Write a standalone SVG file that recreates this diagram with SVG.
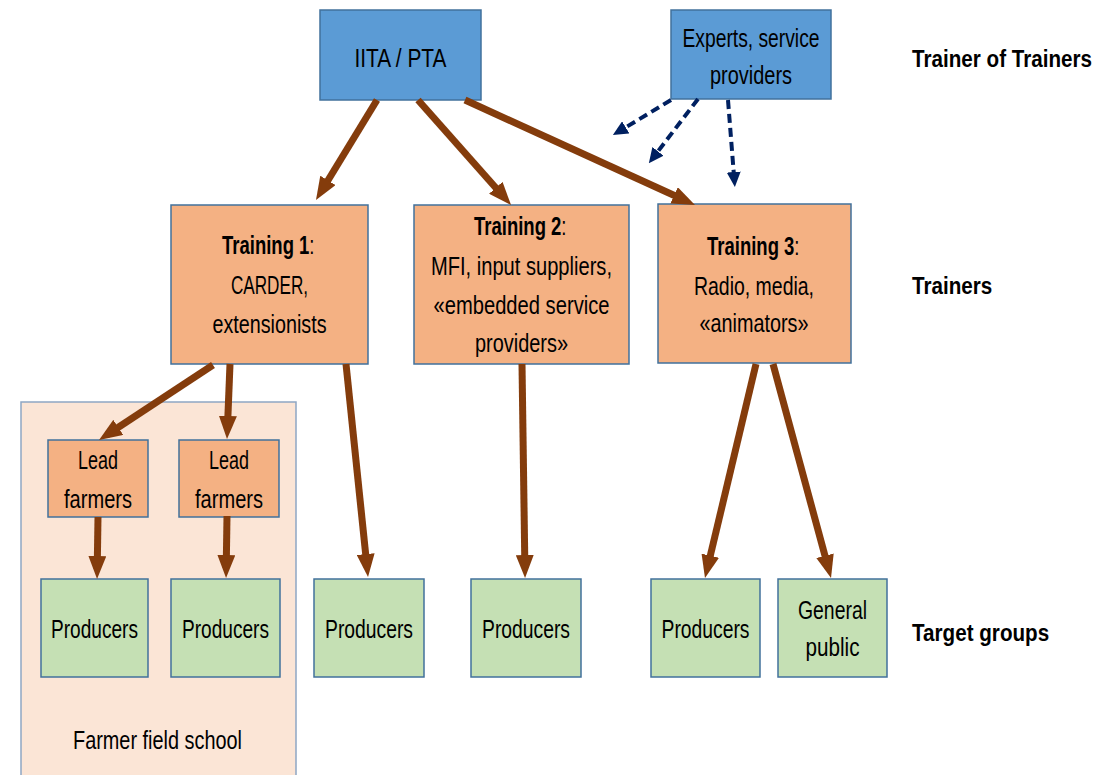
<svg xmlns="http://www.w3.org/2000/svg" width="1114" height="775" viewBox="0 0 1114 775">
<style>
text{font-family:"Liberation Sans",Arial,sans-serif;font-size:25px;fill:#000;text-anchor:middle}
.lbl{font-weight:bold;text-anchor:start;font-size:24px}
.b{font-weight:bold;text-anchor:start}
.n{font-weight:normal}
.blue{fill:#5B9BD5;stroke:#41719C;stroke-width:1.5}
.org{fill:#F4B183;stroke:#41719C;stroke-width:1.5}
.grn{fill:#C5E0B4;stroke:#41719C;stroke-width:1.5}
.ffs{fill:#FBE5D6;stroke:#8EA6C4;stroke-width:1.5}
.br{stroke:#843C0C;stroke-width:7;fill:none;marker-end:url(#ab)}
.dn{stroke:#002060;stroke-width:4;fill:none;stroke-dasharray:9 5;marker-end:url(#ad)}
</style>
<defs>
<marker id="ab" markerUnits="userSpaceOnUse" viewBox="0 0 23 18" markerWidth="23" markerHeight="18" refX="13" refY="9" orient="auto"><path d="M0,0 L23,9 L0,18 z" fill="#843C0C"/></marker>
<marker id="ad" markerUnits="userSpaceOnUse" viewBox="0 0 15 14" markerWidth="15" markerHeight="14" refX="9" refY="7" orient="auto"><path d="M0,0 L15,7 L0,14 z" fill="#002060"/></marker>
</defs>
<rect width="1114" height="775" fill="#fff"/>
<g id="ffs"><rect class="ffs" x="21" y="402" width="275" height="380"/><text x="157.5" y="749" textLength="169" lengthAdjust="spacingAndGlyphs">Farmer field school</text></g>
<g id="iita"><rect class="blue" x="320" y="10" width="161" height="90"/><text x="400.5" y="67" textLength="92" lengthAdjust="spacingAndGlyphs">IITA / PTA</text></g>
<g id="experts"><rect class="blue" x="671" y="10" width="160" height="89"/><text x="751" y="47" textLength="137" lengthAdjust="spacingAndGlyphs">Experts, service</text><text x="751" y="84" textLength="82" lengthAdjust="spacingAndGlyphs">providers</text></g>
<g id="training1"><rect class="org" x="171" y="205" width="197" height="159"/><text class="b" transform="translate(222,254) scale(0.74,1)">Training 1<tspan class="n">:</tspan></text><text x="269.5" y="294" textLength="77" lengthAdjust="spacingAndGlyphs">CARDER,</text><text x="269.5" y="333" textLength="114" lengthAdjust="spacingAndGlyphs">extensionists</text></g>
<g id="training2"><rect class="org" x="414" y="205" width="215" height="159"/><text class="b" transform="translate(474,235) scale(0.74,1)">Training 2<tspan class="n">:</tspan></text><text x="521.5" y="275" textLength="181" lengthAdjust="spacingAndGlyphs">MFI, input suppliers,</text><text x="521.5" y="314" textLength="176" lengthAdjust="spacingAndGlyphs">«embedded service</text><text x="521.5" y="352" textLength="93" lengthAdjust="spacingAndGlyphs">providers»</text></g>
<g id="training3"><rect class="org" x="658" y="204" width="193" height="159"/><text class="b" transform="translate(707,255) scale(0.74,1)">Training 3<tspan class="n">:</tspan></text><text x="754" y="295" textLength="120" lengthAdjust="spacingAndGlyphs">Radio, media,</text><text x="754" y="332" textLength="109" lengthAdjust="spacingAndGlyphs">«animators»</text></g>
<g id="lead1"><rect class="org" x="48" y="440" width="100" height="77"/><text x="98" y="469" textLength="40" lengthAdjust="spacingAndGlyphs">Lead</text><text x="98" y="508" textLength="68" lengthAdjust="spacingAndGlyphs">farmers</text></g>
<g id="lead2"><rect class="org" x="179" y="440" width="100" height="77"/><text x="229" y="469" textLength="40" lengthAdjust="spacingAndGlyphs">Lead</text><text x="229" y="508" textLength="68" lengthAdjust="spacingAndGlyphs">farmers</text></g>
<g id="prod1"><rect class="grn" x="41" y="579" width="107" height="98"/><text x="94.5" y="638" textLength="87" lengthAdjust="spacingAndGlyphs">Producers</text></g>
<g id="prod2"><rect class="grn" x="171" y="579" width="109" height="98"/><text x="225.5" y="638" textLength="87" lengthAdjust="spacingAndGlyphs">Producers</text></g>
<g id="prod3"><rect class="grn" x="314" y="579" width="110" height="98"/><text x="369" y="638" textLength="88" lengthAdjust="spacingAndGlyphs">Producers</text></g>
<g id="prod4"><rect class="grn" x="471" y="579" width="110" height="98"/><text x="526" y="638" textLength="88" lengthAdjust="spacingAndGlyphs">Producers</text></g>
<g id="prod5"><rect class="grn" x="651" y="579" width="109" height="98"/><text x="705.5" y="638" textLength="88" lengthAdjust="spacingAndGlyphs">Producers</text></g>
<g id="public"><rect class="grn" x="778" y="579" width="109" height="98"/><text x="832.5" y="619" textLength="69" lengthAdjust="spacingAndGlyphs">General</text><text x="832.5" y="656" textLength="54" lengthAdjust="spacingAndGlyphs">public</text></g>
<g id="levels"><text class="lbl" transform="translate(912,67) scale(0.86,1)">Trainer of Trainers</text><text class="lbl" transform="translate(912,294) scale(0.86,1)">Trainers</text><text class="lbl" transform="translate(912,641) scale(0.86,1)">Target groups</text></g>
<g id="connectors">
<line class="br" x1="377" y1="100" x2="321.2" y2="191.5"/>
<line class="br" x1="418" y1="100" x2="504.4" y2="197.5"/>
<line class="br" x1="465" y1="100" x2="685.9" y2="200.8"/>
<line class="br" x1="213" y1="365" x2="107.4" y2="434.5"/>
<line class="br" x1="230" y1="364" x2="227.4" y2="429"/>
<line class="br" x1="346" y1="364" x2="367" y2="567"/>
<line class="br" x1="98" y1="517" x2="97.2" y2="569"/>
<line class="br" x1="227" y1="516" x2="226.2" y2="568"/>
<line class="br" x1="522" y1="364" x2="524.9" y2="568"/>
<line class="br" x1="756" y1="364" x2="707.3" y2="568.3"/>
<line class="br" x1="773" y1="364" x2="828.4" y2="568.3"/>
<line class="dn" x1="671" y1="100" x2="618" y2="132"/>
<line class="dn" x1="698" y1="99" x2="652.5" y2="158.5"/>
<line class="dn" x1="728" y1="100" x2="734.4" y2="181"/>
</g>
</svg>
